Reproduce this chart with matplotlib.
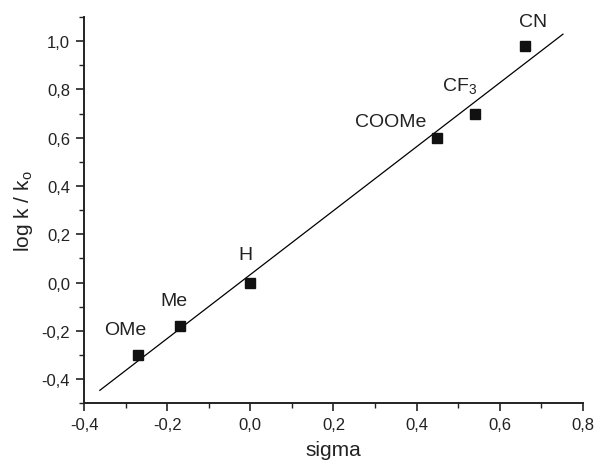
import matplotlib
matplotlib.use("Agg")
import matplotlib.pyplot as plt
import numpy as np
from matplotlib.ticker import MultipleLocator, FuncFormatter

plt.rcParams['font.family'] = ['Liberation Sans', 'DejaVu Sans']
plt.rcParams['mathtext.default'] = 'regular'

substituents = ['OMe', 'Me', 'H', 'COOMe', 'CF$_3$', 'CN']
sigma = [-0.27, -0.17, 0.0, 0.45, 0.54, 0.66]
logk = [-0.30, -0.18, 0.0, 0.60, 0.70, 0.98]
label_x = [-0.301, -0.184, -0.012, 0.338, 0.504, 0.68]
label_y = [-0.195, -0.075, 0.116, 0.668, 0.82, 1.083]
fit_range = [-0.362, 0.752]

fig = plt.figure(figsize=(5.96, 4.64), dpi=100)
ax = fig.add_axes([0.141, 0.129, 0.837, 0.832])

slope, intercept = np.polyfit(sigma, logk, 1)
xs = np.array(fit_range)
ax.plot(xs, slope * xs + intercept, color='black', lw=0.9)
ax.plot(sigma, logk, 's', color='#111111', markersize=6.5, linestyle='none')

for s, lx, ly in zip(substituents, label_x, label_y):
    ax.text(lx, ly, s, ha='center', va='center', fontsize=14, color='#222222')

ax.set_xlim(-0.4, 0.8)
ax.set_ylim(-0.5, 1.1)
ax.spines['top'].set_visible(False)
ax.spines['right'].set_visible(False)
for sp in ('left', 'bottom'):
    ax.spines[sp].set_linewidth(1.4)
    ax.spines[sp].set_color('#222222')

ax.xaxis.set_major_locator(MultipleLocator(0.2))
ax.xaxis.set_minor_locator(MultipleLocator(0.1))
ax.yaxis.set_major_locator(MultipleLocator(0.2))
ax.yaxis.set_minor_locator(MultipleLocator(0.1))
fmt = FuncFormatter(lambda v, p: ('%.1f' % v).replace('.', ',').replace('-0,0', '0,0'))
ax.xaxis.set_major_formatter(fmt)
ax.yaxis.set_major_formatter(fmt)
ax.tick_params(which='major', direction='out', length=6, width=1.2, labelsize=12, colors='#222222', pad=4)
ax.tick_params(which='minor', direction='out', length=3.5, width=1.0, colors='#222222')
ax.set_yticks([t for t in np.arange(-0.4, 1.01, 0.2)])

ax.set_xlabel('sigma', fontsize=15, color='#222222', labelpad=6)
ax.set_ylabel('log k / k$_o$', fontsize=15, color='#222222', labelpad=5)

fig.savefig('out.png', dpi=100)
